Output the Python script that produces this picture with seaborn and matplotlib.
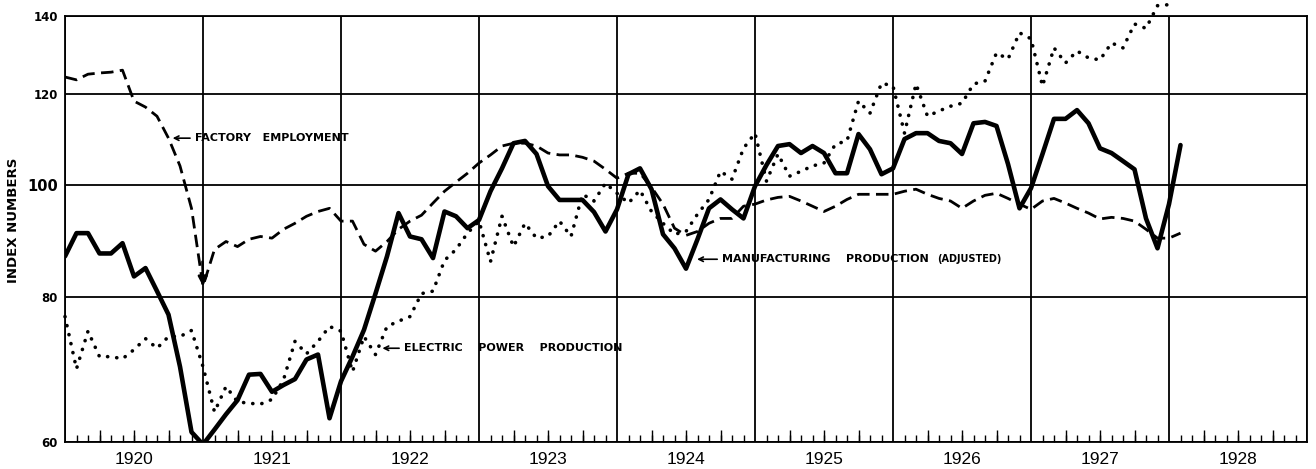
import numpy as np
import pandas as pd
import matplotlib
matplotlib.use("Agg")
import matplotlib.pyplot as plt
import seaborn as sns

# monthly index numbers, first value = January 1920
manufacturing = [
    86.8, 90.9, 90.9, 87.3, 87.3, 89.1, 83.4, 84.8, 81.0, 77.3, 69.7, 61.2,    # 1920
    59.7, 61.5, 63.4, 65.2, 68.6, 68.7, 66.3, 67.2, 68.0, 70.7, 71.4, 62.9,    # 1921
    67.7, 71.1, 75.0, 80.6, 86.8, 94.6, 90.3, 89.8, 86.5, 94.9, 94.0, 91.8,    # 1922
    93.3, 98.8, 103.4, 108.7, 109.2, 106.4, 99.8, 97.1, 97.1, 97.1, 94.8, 91.2,  # 1923
    95.3, 102.2, 103.4, 99.2, 90.7, 88.2, 84.7, 89.8, 95.5, 97.2, 95.3, 93.6,  # 1924
    99.8, 104.1, 108.1, 108.5, 106.6, 108.1, 106.6, 102.4, 102.4, 110.7, 107.4, 102.2,  # 1925
    103.4, 109.6, 110.9, 110.9, 109.2, 108.7, 106.4, 113.1, 113.4, 112.5, 104.3, 95.5,  # 1926
    99.4, 106.4, 114.1, 114.1, 116.1, 113.1, 107.6, 106.6, 104.9, 103.2, 93.6, 88.2,   # 1927
    96.3, 108.3,                                                               # 1928
]
factory_employment = [
    124.0, 123.3, 124.7, 125.0, 125.2, 125.7, 118.2, 116.8, 114.7, 109.8, 103.9, 95.5,
    81.8, 88.0, 89.4, 88.5, 89.8, 90.3, 90.0, 91.6, 92.7, 94.0, 94.9, 95.5,
    93.1, 93.1, 88.9, 87.7, 89.4, 91.6, 93.1, 94.2, 96.5, 98.8, 100.6, 102.4,
    104.5, 106.2, 108.1, 108.7, 108.7, 108.1, 106.6, 106.2, 106.2, 105.7, 104.9, 103.2,
    101.4, 102.4, 102.4, 99.6, 96.3, 91.8, 90.5, 91.2, 92.7, 93.6, 93.6, 95.9,
    96.3, 97.1, 97.6, 97.8, 96.9, 95.9, 94.9, 95.9, 97.2, 98.2, 98.2, 98.2,
    98.2, 98.8, 99.2, 98.2, 97.4, 96.9, 95.5, 96.9, 98.0, 98.4, 97.4, 96.3,
    95.3, 96.9, 97.4, 96.5, 95.5, 94.6, 93.5, 93.8, 93.6, 93.1, 91.6, 90.0,
    90.0, 90.9,
]
electric_power = [
    77.0, 69.4, 74.8, 71.1, 71.1, 70.8, 72.1, 73.7, 72.3, 74.0, 74.0, 74.9,
    69.7, 63.7, 67.0, 65.0, 64.8, 64.7, 65.3, 67.9, 73.3, 71.5, 73.3, 75.5,
    74.8, 69.0, 74.0, 71.4, 75.5, 76.3, 77.0, 80.6, 81.0, 86.1, 88.0, 90.9,
    93.1, 85.9, 94.0, 88.5, 92.7, 90.0, 90.3, 93.1, 90.3, 98.2, 96.9, 100.4,
    98.4, 96.5, 99.0, 94.9, 92.7, 90.7, 91.2, 94.4, 97.2, 102.8, 101.2, 107.6,
    110.9, 100.8, 106.4, 101.8, 102.8, 103.9, 104.5, 108.5, 109.2, 118.2, 115.4, 122.5,
    121.8, 110.9, 122.3, 114.7, 115.9, 117.0, 117.7, 122.3, 123.0, 130.1, 128.5, 135.4,
    133.8, 121.8, 131.4, 127.5, 130.6, 128.8, 128.3, 132.7, 131.4, 137.8, 136.6, 142.9,
    143.2,
]

years = [1920, 1921, 1922, 1923, 1924, 1925, 1926, 1927, 1928]
y_ticks = [60, 80, 100, 120, 140]


def monthly(values):
    return pd.DataFrame({"date": years[0] + np.arange(len(values)) / 12,
                         "index": values})


sns.set_style("white")
plt.rcParams["font.family"] = ["DejaVu Sans"]
plt.rcParams["text.color"] = "black"
plt.rcParams["axes.labelcolor"] = "black"
plt.rcParams["xtick.color"] = "black"
plt.rcParams["ytick.color"] = "black"

fig = plt.figure(figsize=(13.16, 4.69), dpi=100)
ax = fig.add_axes([65 / 1316, 1 - 442 / 469, 1242 / 1316, 426 / 469])
ax.set_yscale("log")

man = monthly(manufacturing)
fac = monthly(factory_employment)
ele = monthly(electric_power)

sns.lineplot(data=man, x="date", y="index", ax=ax, color="black", lw=3.3,
             solid_joinstyle="round", legend=False, zorder=5)
sns.lineplot(data=fac, x="date", y="index", ax=ax, color="black", lw=2.0,
             linestyle=(0, (4.5, 2.3)), legend=False, zorder=4)
sns.lineplot(data=ele, x="date", y="index", ax=ax, color="black", lw=2.6,
             linestyle=(0, (0.05, 2.5)), dash_capstyle="round", clip_on=False,
             legend=False, zorder=4)

# arrow head at the 1921 low of factory employment
i = 12
ax.annotate("", xy=(fac["date"][i], fac["index"][i]),
            xytext=(fac["date"][i] - 0.004, fac["index"][i] * 1.05),
            arrowprops=dict(arrowstyle="-|>", color="black", lw=1.8,
                            mutation_scale=14, shrinkA=0, shrinkB=0))

# axes and grid
ax.set_xlim(years[0], years[-1] + 1)
ax.set_ylim(y_ticks[0], y_ticks[-1])
ax.set_yticks(y_ticks)
ax.set_yticklabels([str(v) for v in y_ticks])
ax.yaxis.set_minor_locator(matplotlib.ticker.NullLocator())
ax.tick_params(axis="y", length=0, pad=5, labelsize=8.5)
for lab in ax.get_yticklabels():
    lab.set_fontweight("bold")
    if lab.get_text() == "100":
        lab.set_fontsize(10.5)
ax.yaxis.grid(True, color="black", lw=1.3)

ax.set_xticks(years + [years[-1] + 1])
ax.set_xticklabels([])
ax.xaxis.grid(True, color="black", lw=1.3)
ax.set_xticks([y + 0.5 for y in years], minor=True)
ax.set_xticklabels([str(y) for y in years], minor=True,
                   fontfamily="Liberation Sans", fontsize=12.5)
ax.tick_params(axis="x", which="both", length=0, pad=7)

months = ax.secondary_xaxis("bottom")
months.set_xticks([y + m / 12 for y in years for m in range(1, 12)])
months.tick_params(direction="in", length=5, width=1, labelbottom=False)
months.spines["bottom"].set_visible(False)
quarters = ax.secondary_xaxis("bottom")
quarters.set_xticks([y + m / 12 for y in years for m in (3, 6, 9)])
quarters.tick_params(direction="in", length=8.5, width=1, labelbottom=False)
quarters.spines["bottom"].set_visible(False)

for s in ax.spines.values():
    s.set_color("black")
    s.set_linewidth(1.3)

ax.set_xlabel("")
ax.set_ylabel("INDEX NUMBERS", fontsize=9.5, fontweight="bold")
ax.yaxis.set_label_coords(-0.036, 0.52)

# series labels
lab_kw = dict(ha="left", va="center", fontsize=8, fontweight="bold",
              arrowprops=dict(arrowstyle="->", color="black", lw=1.2,
                              shrinkA=1, shrinkB=0))
ax.annotate("FACTORY   EMPLOYMENT", xy=(1920.78, 109.8), xytext=(1920.94, 109.8), **lab_kw)
ax.annotate("ELECTRIC    POWER    PRODUCTION", xy=(1922.30, 72.3), xytext=(1922.455, 72.3), **lab_kw)
ax.annotate("MANUFACTURING    PRODUCTION", xy=(1924.58, 86.3), xytext=(1924.76, 86.3), **lab_kw)
ax.text(1926.32, 86.3, "(ADJUSTED)", ha="left", va="center", fontsize=7, fontweight="bold")

fig.savefig("out.png", dpi=100)
